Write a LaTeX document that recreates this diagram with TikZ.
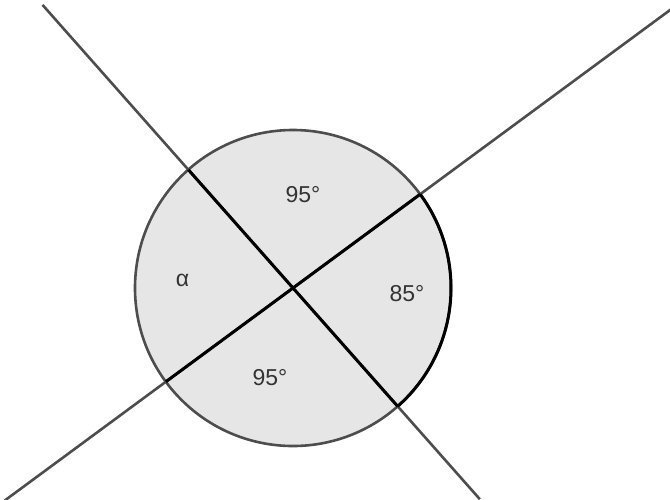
\documentclass[tikz,border=0pt]{standalone}
\usepackage{fontspec}
\setmainfont{Liberation Sans}
\usetikzlibrary{calc}

\definecolor{linegray}{HTML}{4D4D4D}
\definecolor{fillgray}{HTML}{E6E6E6}
\definecolor{textgray}{HTML}{333333}

\begin{document}
\begin{tikzpicture}[x=1pt, y=-1pt,
		thinline/.style={draw=linegray, line width=2.6pt},
		thickline/.style={draw=black, line width=3pt},
		anglelabel/.style={text=textgray, font=\fontsize{23}{28}\selectfont, inner sep=1pt}]
		
		\clip (0,0) rectangle (670,499);
		
		% Centro e punti sul cerchio
		\coordinate (c) at (293,288);
		\coordinate (p1) at ($(c)+(228.5:158)$);
		\coordinate (p2) at ($(c)+(48.5:158)$);
		\coordinate (q1) at ($(c)+(143.6:158)$);
		\coordinate (q2) at ($(c)+(-36.4:158)$);
		
		% Estremi delle rette
		\coordinate (e1) at ($(c)+(228.5:378)$);
		\coordinate (e2) at ($(c)+(48.5:282)$);
		\coordinate (f1) at ($(c)+(143.6:358)$);
		\coordinate (f2) at ($(c)+(-36.4:470)$);
		
		% Cerchio
		\fill [fillgray] (c) circle (158);
		
		% Rette
		\draw [thinline] (e1) -- (e2);
		\draw [thinline] (f1) -- (f2);
		\draw [thinline] (c) circle (158);
		
		% Parti in nero
		\draw [thickline] (q2) arc (-36.4:48.5:158);
		\draw [thickline] (p1) -- (p2);
		\draw [thickline] (q1) -- (q2);
		
		% Etichette
		\node [anglelabel] (top) at ($(c)+(10,-93.5)$) {95°};
		\node [anglelabel] (left) at ($(c)+(-110.5,-8)$) {α};
		\node [anglelabel] (right) at ($(c)+(114,5.5)$) {85°};
		\node [anglelabel] (bottom) at ($(c)+(-23,89.5)$) {95°};
		
	\end{tikzpicture}
\end{document}
